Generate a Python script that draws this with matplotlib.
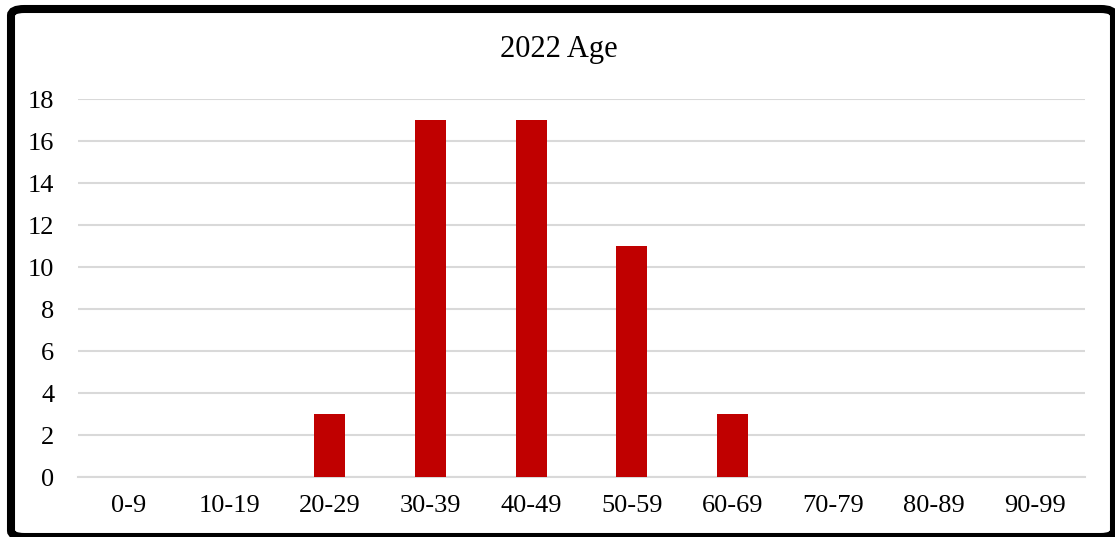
import matplotlib.pyplot as plt
from matplotlib.patches import FancyBboxPatch

age_groups = ["0-9", "10-19", "20-29", "30-39", "40-49", "50-59", "60-69", "70-79", "80-89", "90-99"]
counts = [0, 0, 3, 17, 17, 11, 3, 0, 0, 0]
y_ticks = [0, 2, 4, 6, 8, 10, 12, 14, 16, 18]

plt.rcParams["font.family"] = ["Liberation Serif", "DejaVu Serif"]

fig = plt.figure(figsize=(11.15, 5.37), dpi=100)
ax = fig.add_axes([0.070, 0.1117, 0.903, 0.7039])

x = range(len(age_groups))
ax.bar(x, counts, width=0.31, color="#C00000", zorder=3)

ax.set_xlim(-0.5, len(age_groups) - 0.5)
ax.set_ylim(0, 18)
ax.set_yticks(y_ticks)
ax.set_xticks(list(x))
ax.set_xticklabels(age_groups)
ax.tick_params(axis="both", length=0, labelsize=19, colors="black")
ax.tick_params(axis="x", pad=13)
ax.tick_params(axis="y", pad=17)

ax.grid(axis="y", color="#D9D9D9", linewidth=1.5, zorder=0)
for s in ["top", "right", "left"]:
    ax.spines[s].set_visible(False)
ax.spines["bottom"].set_color("#D9D9D9")
ax.spines["bottom"].set_linewidth(1.5)

fig.text(0.5014, 0.908, "2022 Age", ha="center", va="center", fontsize=22)

# outer border, partly cut off at the right and bottom like the original
W, H = 1115, 537
border = FancyBboxPatch((11 / W, 0), 1103 / W, 528 / H,
                        boxstyle="round,pad=0,rounding_size=0.012",
                        transform=fig.transFigure, fill=False,
                        edgecolor="black", linewidth=5.8, zorder=10)
fig.patches.append(border)

fig.savefig("out.png", dpi=100)
